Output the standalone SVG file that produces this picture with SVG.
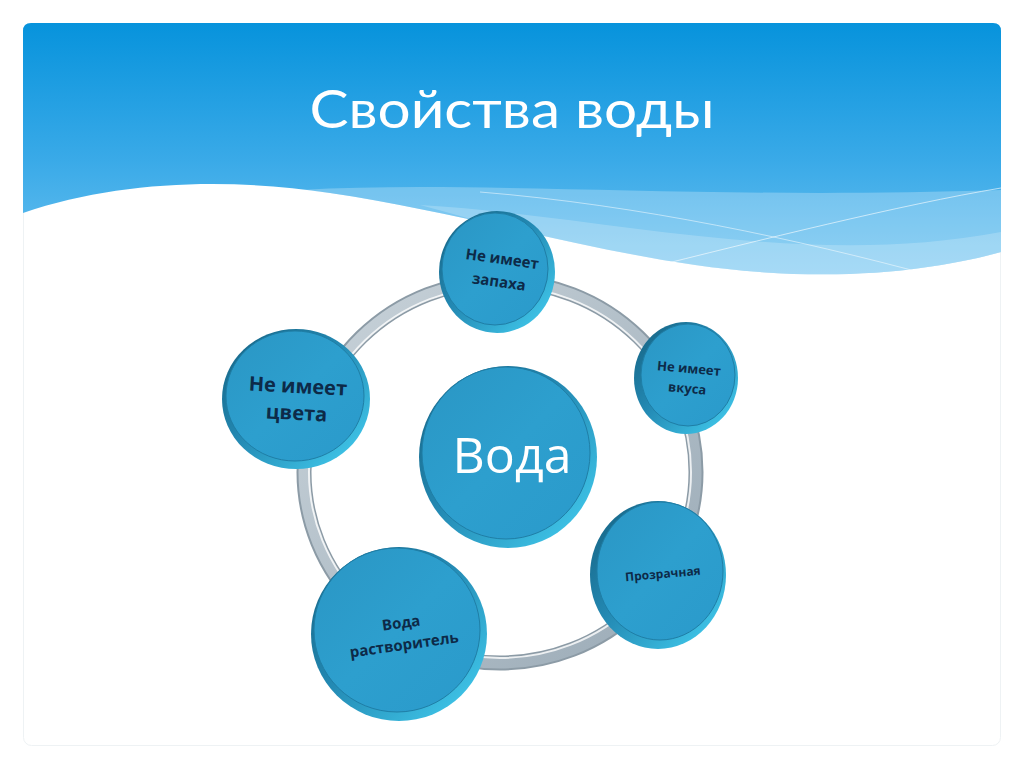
<svg xmlns="http://www.w3.org/2000/svg" width="1024" height="767" viewBox="0 0 1024 767">
  <defs>
    <linearGradient id="sky" x1="0" y1="0" x2="0" y2="1">
      <stop offset="0" stop-color="#0793dc"/>
      <stop offset="0.55" stop-color="#3aaae8"/>
      <stop offset="1" stop-color="#6cc2f0"/>
    </linearGradient>
    <linearGradient id="nodeFill" x1="0" y1="0" x2="1" y2="1">
      <stop offset="0" stop-color="#2a96c4"/>
      <stop offset="0.5" stop-color="#2d9fce"/>
      <stop offset="1" stop-color="#2a9acb"/>
    </linearGradient>
    <linearGradient id="rim" x1="0" y1="0" x2="1" y2="1">
      <stop offset="0" stop-color="#15607f"/>
      <stop offset="0.45" stop-color="#2389b3"/>
      <stop offset="1" stop-color="#45d2f4"/>
    </linearGradient>
    <linearGradient id="ringG" x1="0" y1="0" x2="1" y2="1">
      <stop offset="0" stop-color="#c9d3da"/>
      <stop offset="1" stop-color="#9aaab6"/>
    </linearGradient>
  </defs>
  <style>
    .rim { fill: url(#rim); }
    .face { fill: url(#nodeFill); stroke: #1f7ea6; stroke-width: 1; }
    .lbl { font-family: "Open Sans", "Noto Sans", "Liberation Sans", sans-serif; font-weight: bold; fill: #0d2a48; text-anchor: middle; }
  </style>
  <rect x="0" y="0" width="1024" height="767" fill="#ffffff"/>
  <rect x="23.5" y="23.5" width="977" height="722" rx="8" fill="#ffffff" stroke="#eef2f4" stroke-width="1"/>
  <!-- header -->
  <path d="M23,213 C120,180 230,178 330,193 C480,215 620,262 760,272 C870,280 950,266 1001,252 L1001,31 Q1001,23 993,23 L31,23 Q23,23 23,31 Z" fill="url(#sky)"/>
  <path d="M300,190 C480,180 700,200 1001,190 L1001,252 C950,266 870,280 760,272 C620,262 480,215 330,193 Z" fill="#ffffff" opacity="0.25"/>
  <path d="M420,205 C600,215 800,270 1001,232 L1001,252 C950,266 870,280 760,272 C620,262 520,232 420,205 Z" fill="#ffffff" opacity="0.2"/>
  <path d="M640,270 C760,240 900,205 1001,188" fill="none" stroke="#ffffff" stroke-width="1" opacity="0.6"/>
  <path d="M480,192 C640,205 800,240 930,275" fill="none" stroke="#ffffff" stroke-width="1" opacity="0.5"/>
  <text x="512" y="128" font-family="Lato, 'Noto Sans', sans-serif" font-size="52" fill="#ffffff" text-anchor="middle" textLength="405" lengthAdjust="spacingAndGlyphs">Свойства воды</text>

  <!-- connectors: ring -->
  <g id="connectors">
    <ellipse cx="500" cy="472" rx="196" ry="191" fill="none" stroke="#8c9ba6" stroke-width="15"/>
    <ellipse cx="500" cy="472" rx="196" ry="191" fill="none" stroke="url(#ringG)" stroke-width="11"/>
    <ellipse cx="500" cy="472" rx="191" ry="186" fill="none" stroke="#ffffff" stroke-width="2" opacity="0.8"/>
  </g>

  <g id="node-smell">
    <ellipse cx="497" cy="272" rx="58" ry="61" class="rim"/>
    <ellipse cx="495" cy="269" rx="53" ry="56" class="face"/>
    <g transform="rotate(8 500 275)">
      <text class="lbl" x="500" y="264" font-size="15">Не имеет</text>
      <text class="lbl" x="500" y="287" font-size="15">запаха</text>
    </g>
  </g>

  <g id="node-taste">
    <ellipse cx="686" cy="378" rx="52" ry="56" class="rim"/>
    <ellipse cx="688" cy="375" rx="47" ry="51" class="face"/>
    <g transform="rotate(5 688 380)">
      <text class="lbl" x="688" y="373" font-size="13">Не имеет</text>
      <text class="lbl" x="688" y="393" font-size="13">вкуса</text>
    </g>
  </g>

  <g id="node-color">
    <ellipse cx="296" cy="399" rx="74" ry="70" class="rim"/>
    <ellipse cx="295" cy="396" rx="69" ry="65" class="face"/>
    <g transform="rotate(3 297 405)">
      <text class="lbl" x="297" y="393" font-size="20">Не имеет</text>
      <text class="lbl" x="297" y="420" font-size="20">цвета</text>
    </g>
  </g>

  <g id="node-water">
    <ellipse cx="508" cy="457" rx="89" ry="91" class="rim"/>
    <ellipse cx="506" cy="453" rx="84" ry="86" class="face"/>
    <text x="512" y="473" font-family="'Open Sans', 'Noto Sans', sans-serif" font-size="50" fill="#ffffff" text-anchor="middle">Вода</text>
  </g>

  <g id="node-transparent">
    <ellipse cx="658" cy="575" rx="68" ry="74" class="rim"/>
    <ellipse cx="660" cy="571" rx="63" ry="69" class="face"/>
    <text class="lbl" x="663" y="578" font-size="12" transform="rotate(-5 663 575)">Прозрачная</text>
  </g>

  <g id="node-solvent">
    <ellipse cx="399" cy="634" rx="88" ry="87" class="rim"/>
    <ellipse cx="397" cy="630" rx="83" ry="82" class="face"/>
    <g transform="rotate(-8 403 637)">
      <text class="lbl" x="403" y="628" font-size="15">Вода</text>
      <text class="lbl" x="403" y="650" font-size="15">растворитель</text>
    </g>
  </g>
</svg>
